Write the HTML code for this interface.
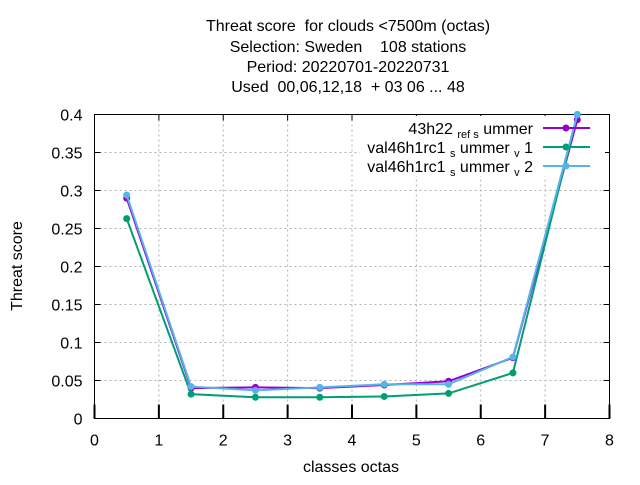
<!DOCTYPE html>
<html><head><meta charset="utf-8"><style>
body{margin:0;background:#fff}
svg{font-family:"Liberation Sans",sans-serif;font-size:16px}
text{white-space:pre}
</style></head><body>
<svg id="c" width="640" height="480" xmlns="http://www.w3.org/2000/svg" xml:space="preserve">
<g text-anchor="middle" fill="#000">
<text x="348" y="31">Threat score  for clouds &lt;7500m (octas)</text>
<text x="348" y="52">Selection: Sweden    108 stations</text>
<text x="348" y="72">Period: 20220701-20220731</text>
<text x="348" y="92">Used  00,06,12,18  + 03 06 ... 48</text>
</g>
<g id="grid"></g>
<g id="axes"></g>
<text transform="translate(22,266) rotate(-90)" text-anchor="middle">Threat score</text>
<text x="351" y="472" text-anchor="middle">classes octas</text>
<rect x="360" y="116" width="245" height="60" fill="#fff"/>
<g id="series"></g>
<g id="legend"></g>
</svg>
<script>
const categories=[0.5,1.5,2.5,3.5,4.5,5.5,6.5,7.5];
const seriesNames=["43h22_ref_summer","val46h1rc1_summer_v1","val46h1rc1_summer_v2"];
const series1=[0.290,0.040,0.041,0.040,0.044,0.049,0.080,0.393];
const series2=[0.263,0.032,0.028,0.028,0.029,0.033,0.060,0.400];
const series3=[0.294,0.042,0.037,0.041,0.045,0.045,0.081,0.400];
const xTicks=[0,1,2,3,4,5,6,7,8];
const yTicks=[0,0.05,0.1,0.15,0.2,0.25,0.3,0.35,0.4];
const yTickLabels=["0","0.05","0.1","0.15","0.2","0.25","0.3","0.35","0.4"];
const colors=["#9400d3","#009e73","#56b4e9"];
const L=94.5,R=609.5,T=114.5,B=418.5;
const X=v=>L+(v-0)/8*(R-L);
const Y=v=>B-(v-0)/0.4*(B-T);
const NS="http://www.w3.org/2000/svg";
function mk(tag,attrs,parent){const e=document.createElementNS(NS,tag);for(const k in attrs)e.setAttribute(k,attrs[k]);parent.appendChild(e);return e;}
const grid=document.getElementById('grid'),axes=document.getElementById('axes');
yTicks.forEach((t,i)=>{
  if(i>0&&i<yTicks.length-1){const g=mk('line',{x1:L,x2:R,y1:Y(t),y2:Y(t),stroke:'#b0b0b0','stroke-dasharray':'2,3'},grid);
  
  }
  mk('line',{x1:L,x2:L+6,y1:Y(t),y2:Y(t),stroke:'#000'},axes);
  mk('line',{x1:R,x2:R-6,y1:Y(t),y2:Y(t),stroke:'#000'},axes);
  const tx=mk('text',{x:L-12,y:Y(t)+6,'text-anchor':'end'},axes);tx.textContent=yTickLabels[i];
  
  
});
xTicks.forEach((t,i)=>{
  if(i>0&&i<xTicks.length-1){const g=mk('line',{x1:X(t),x2:X(t),y1:T,y2:B,stroke:'#b0b0b0','stroke-dasharray':'2,3'},grid);
  
  }
  mk('line',{x1:X(t),x2:X(t),y1:B,y2:B-14,stroke:'#000','stroke-width':2},axes);
  mk('line',{x1:X(t),x2:X(t),y1:T,y2:T+6,stroke:'#000'},axes);
  const tx=mk('text',{x:X(t),y:B+27,'text-anchor':'middle'},axes);tx.textContent=String(t);
  
  
});
mk('rect',{x:L,y:T,width:R-L,height:B-T,fill:'none',stroke:'#000'},axes);
const sg=document.getElementById('series');
[series1,series2,series3].forEach((s,k)=>{
  const pts=s.map((v,i)=>X(categories[i])+','+Y(v)).join(' ');
  const pl=mk('polyline',{points:pts,fill:'none',stroke:colors[k],'stroke-width':2},sg);
  
  
  s.forEach((v,i)=>{
    const c=mk('circle',{cx:X(categories[i]),cy:Y(v),r:3.5,fill:colors[k]},sg);
    
    
  });
});
const lg=document.getElementById('legend');
lbl=[0,1,2];
lbl.forEach((p,k)=>{
  const y=128+k*19;
  const t=mk('text',{x:533,y:y+6,'text-anchor':'end'},lg);
  
  
  if(k===0){t.innerHTML='43h22 <tspan font-size="11" dy="4">ref</tspan><tspan font-size="11" dy="0"> s</tspan><tspan dy="-4"> ummer</tspan>';}
  else{t.innerHTML='val46h1rc1 <tspan font-size="11" dy="4">s</tspan><tspan dy="-4"> ummer </tspan><tspan font-size="11" dy="4">v</tspan><tspan dy="-4"> '+k+'</tspan>';}
  const ln=mk('line',{x1:543,x2:590,y1:y,y2:y,stroke:colors[k],'stroke-width':2},lg);
  
  
  mk('circle',{cx:566,cy:y,r:3.5,fill:colors[k]},lg);
});
</script>
</body></html>
